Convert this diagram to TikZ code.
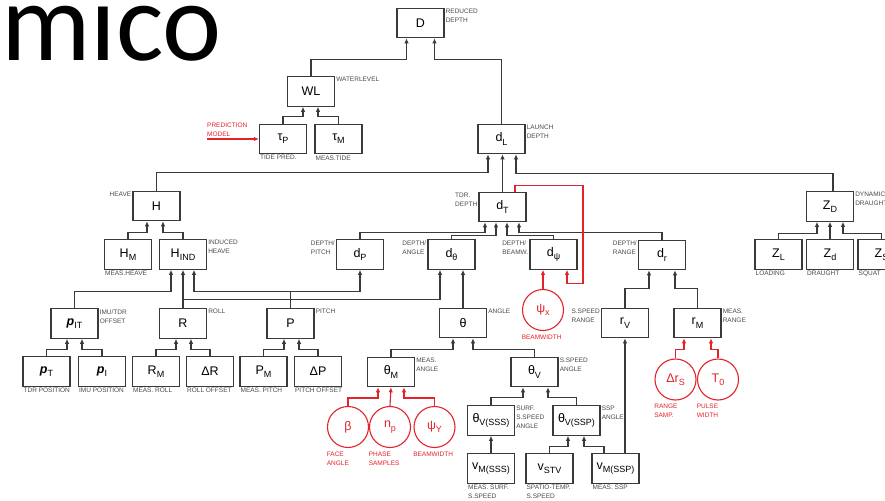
\documentclass[tikz,border=0pt]{standalone}
\usepackage{fontspec}
\setmainfont{Liberation Sans}
\newfontfamily\titlefont{Carlito}
\usetikzlibrary{arrows.meta}
\definecolor{linegray}{HTML}{3A3A3A}
\definecolor{labgray}{HTML}{4A4A4A}
\definecolor{mred}{HTML}{E3232A}
\newcommand{\sbs}[1]{\raisebox{-0.5ex}{\fontsize{9}{9}\selectfont #1}}
\newcommand{\vp}{\textbf{\textit{p}}}

\begin{document}
\begin{tikzpicture}[x=1pt,y=1pt]
	\tikzset{box/.style={draw=linegray,line width=1.1pt,minimum width=47pt,minimum height=29.5pt,inner sep=0pt,font=\fontsize{12.5}{12.5}\selectfont}}
	\tikzset{rnd/.style={circle,draw=mred,text=mred,line width=1.1pt,minimum size=41pt,inner sep=0pt,font=\fontsize{12.5}{12.5}\selectfont}}
	\tikzset{lab/.style={inner sep=1pt,align=left,text=labgray,font=\fontsize{6.5}{9}\selectfont}}
	\tikzset{redlab/.style={lab,text=mred}}
	\tikzset{rlab/.style={label={[lab,anchor=north west]north east:#1}}}
	\tikzset{llab/.style={label={[lab,anchor=north east]north west:#1}}}
	\tikzset{blab/.style={label={[lab,anchor=north west]south west:#1}}}
	\tikzset{clab/.style={label={[redlab,anchor=north west,xshift=-7.5pt,yshift=-8.5pt]south west:#1}}}
	\tikzset{link/.style={draw=linegray,line width=1.1pt,-{Latex[length=5pt,width=4.5pt]}}}
	\tikzset{redlink/.style={link,draw=mred}}
	\useasboundingbox (0,0) rectangle (885,-500);
	\clip (0,0) rectangle (885,-500);
	\node[anchor=base west,inner sep=0pt,text height=54pt,text depth=0pt,font=\titlefont\fontsize{112}{112}\selectfont] (title) at (1,-61) {mico};
	% top levels
	\node[box,rlab={REDUCED\\DEPTH}] (d) at (420.5,-23) {D};
	\node[box,rlab={WATERLEVEL}] (wl) at (311,-91.5) {WL};
	\node[box,blab={TIDE PRED.}] (taup) at (283,-139) {τ\sbs{P}};
	\node[box,blab={MEAS.TIDE}] (taum) at (338.5,-139) {τ\sbs{M}};
	\node[box,rlab={LAUNCH\\DEPTH}] (dl) at (501.5,-139) {d\sbs{L}};
	\coordinate (pmodel) at (207,-139);
	\node[redlab,anchor=south west] (pmtext) at ([xshift=-1pt,yshift=1pt]pmodel) {PREDICTION\\MODEL};
	\node[box,llab={HEAVE}] (h) at (156.5,-206) {H};
	\node[box,llab={TDR.\\DEPTH}] (dt) at (502.5,-207) {d\sbs{T}};
	\node[box,rlab={DYNAMIC\\DRAUGHT}] (zd) at (830,-206.5) {Z\sbs{D}};
	% second row
	\node[box,blab={MEAS.HEAVE}] (hm) at (128,-254.5) {H\sbs{M}};
	\node[box,rlab={INDUCED\\HEAVE}] (hind) at (183,-254.5) {H\sbs{IND}};
	\node[box,llab={DEPTH/\\PITCH}] (dp) at (360,-254.5) {d\sbs{P}};
	\node[box,llab={DEPTH/\\ANGLE}] (dth) at (451.5,-254.5) {d\sbs{θ}};
	\node[box,llab={DEPTH/\\BEAMW.}] (dpsi) at (553.5,-254.5) {d\sbs{ψ}};
	\node[box,llab={DEPTH/\\RANGE}] (dr) at (662,-255) {d\sbs{r}};
	\node[box,blab={LOADING}] (zl) at (778.5,-254.5) {Z\sbs{L}};
	\node[box,blab={DRAUGHT}] (zdr) at (830,-254.5) {Z\sbs{d}};
	\node[box,blab={SQUAT}] (zs) at (881.5,-254.5) {Z\sbs{S}};
	% third row
	\node[box,rlab={IMU/TDR\\OFFSET}] (pit) at (74.5,-323.5) {\vp\sbs{IT}};
	\node[box,rlab={ROLL}] (r) at (183,-323.5) {R};
	\node[box,rlab={PITCH}] (p) at (290.5,-323.5) {P};
	\node[box,rlab={ANGLE}] (th) at (463,-323) {θ};
	\node[rnd,clab={BEAMWIDTH}] (psix) at (543,-310) {ψ\sbs{x}};
	\node[box,llab={S.SPEED\\RANGE}] (rv) at (625,-323) {r\sbs{V}};
	\node[box,rlab={MEAS.\\RANGE}] (rm) at (697.5,-323) {r\sbs{M}};
	% fourth row
	\node[box,blab={TDR POSITION}] (pt) at (46.5,-371.5) {\vp\sbs{T}};
	\node[box,blab={IMU POSITION}] (pi) at (102,-371.5) {\vp\sbs{I}};
	\node[box,blab={MEAS. ROLL}] (rmeas) at (156,-371.5) {R\sbs{M}};
	\node[box,blab={ROLL OFFSET}] (dR) at (210,-371.5) {ΔR};
	\node[box,blab={MEAS. PITCH}] (pmeas) at (263.5,-371.5) {P\sbs{M}};
	\node[box,blab={PITCH OFFSET}] (dP) at (318,-371.5) {ΔP};
	\node[box,rlab={MEAS.\\ANGLE}] (thm) at (391,-372) {θ\sbs{M}};
	\node[box,rlab={S.SPEED\\ANGLE}] (thv) at (534.5,-372) {θ\sbs{V}};
	\node[rnd,clab={RANGE\\SAMP.}] (drs) at (675.5,-379.5) {Δr\sbs{S}};
	\node[rnd,clab={PULSE\\WIDTH}] (t0) at (718,-379.5) {T\sbs{0}};
	% bottom rows
	\node[rnd,clab={FACE\\ANGLE}] (beta) at (348,-427) {β};
	\node[rnd,clab={PHASE\\SAMPLES}] (np) at (390,-427) {n\sbs{p}};
	\node[rnd,clab={BEAMWIDTH}] (psiy) at (434.5,-427) {ψ\sbs{Y}};
	\node[box,rlab={SURF.\\S.SPEED\\ANGLE}] (thvs) at (491,-420.5) {θ\sbs{V(SSS)}};
	\node[box,rlab={SSP\\ANGLE}] (thvp) at (576.5,-420.5) {θ\sbs{V(SSP)}};
	\node[box,blab={MEAS. SURF.\\S.SPEED}] (vms) at (491,-468.5) {v\sbs{M(SSS)}};
	\node[box,blab={SPATIO-TEMP.\\S.SPEED}] (vstv) at (549.5,-468.5) {v\sbs{STV}};
	\node[box,blab={MEAS. SSP}] (vmp) at (615.5,-468.5) {v\sbs{M(SSP)}};
	% connectors
	\draw[link] (wl.north) -- ++(0,17) -| ([xshift=-14pt]d.south);
	\draw[link] (dl.north) -- ++(0,64) -| ([xshift=14pt]d.south);
	\draw[link] (taup.north) -- ++(0,7) -| ([xshift=-8pt]wl.south);
	\draw[link] (taum.north) -- ++(0,7) -| ([xshift=7pt]wl.south);
	\draw[link] (h.north) -- ++(0,18) -| ([xshift=-13.5pt]dl.south);
	\draw[link] (dt.north) -- (dt.north |- dl.south);
	\draw[link] ([xshift=3pt]zd.north) -- ++(0,18) -| ([xshift=14.5pt]dl.south);
	\draw[link] (hm.north) -- ++(0,7) -| ([xshift=-9.5pt]h.south);
	\draw[link] (hind.north) -- ++(0,7) -| ([xshift=6.5pt]h.south);
	\draw[link] (dp.north) -- ++(0,7) -| ([xshift=-17.5pt]dt.south);
	\draw[link] (dth.north) -- ++(0,4) -| ([xshift=-6.5pt]dt.south);
	\draw[link] (dpsi.north) -- ++(0,4) -| ([xshift=4.5pt]dt.south);
	\draw[link] (dr.north) -- ++(0,7) -| ([xshift=16.5pt]dt.south);
	\draw[link] (zl.north) -- ++(0,6) -| ([xshift=-13pt]zd.south);
	\draw[link] (zdr.north) -- (zd.south);
	\draw[link] (zs.north) -- ++(0,6) -| ([xshift=13pt]zd.south);
	\draw[link] (pit.north) -- ++(0,17) -| ([xshift=-12pt]hind.south);
	\draw[link] (r.north) -- (hind.south);
	\draw[link] (r.north) -- ++(0,9) -| ([xshift=-11.5pt]dth.south);
	\draw[link] (p.north) -- ++(0,17) -| ([xshift=11pt]hind.south);
	\draw[link] (p.north) -- ++(0,17) -| (dp.south);
	\draw[link] (th.north) -- (th.north |- dth.south);
	\draw[link] (pt.north) -- ++(0,7) -| ([xshift=-7.5pt]pit.south);
	\draw[link] (pi.north) -- ++(0,7) -| ([xshift=7.5pt]pit.south);
	\draw[link] (rmeas.north) -- ++(0,7) -| ([xshift=-7pt]r.south);
	\draw[link] (dR.north) -- ++(0,7) -| ([xshift=8pt]r.south);
	\draw[link] (pmeas.north) -- ++(0,7) -| ([xshift=-6.5pt]p.south);
	\draw[link] (dP.north) -- ++(0,7) -| ([xshift=8.5pt]p.south);
	\draw[link] (rv.north) -- ++(0,19) -| ([xshift=-13pt]dr.south);
	\draw[link] (rm.north) -- ++(0,19) -| ([xshift=13pt]dr.south);
	\draw[link] (thm.north) -- ++(0,7) -| ([xshift=-10pt]th.south);
	\draw[link] (thv.north) -- ++(0,7) -| ([xshift=10pt]th.south);
	\draw[link] (thvs.north) -- ++(0,8) -| ([xshift=-11.5pt]thv.south);
	\draw[link] (thvp.north) -- ++(0,8) -| ([xshift=13.5pt]thv.south);
	\draw[link] (vms.north) -- (thvs.south);
	\draw[link] (vstv.north) -- ++(0,7) -| ([xshift=-8.5pt]thvp.south);
	\draw[link] ([xshift=-11.5pt]vmp.north) -- ++(0,7) -| ([xshift=7.5pt]thvp.south);
	\draw[link] ([xshift=9.5pt]vmp.north) -- (rv.south);
	% red inputs
	\draw[redlink] (pmodel) -- (taup.west);
	\draw[redlink] (psix.north) -- ([xshift=-10.5pt]dpsi.south);
	\draw[redlink] ([xshift=12.5pt]dt.north) -- ++(0,6) -| ([xshift=29.5pt,yshift=-14pt]dpsi.south) -| ([xshift=13.5pt]dpsi.south);
	\draw[redlink] (beta.north) -- ++(0,8) -| ([xshift=-13pt]thm.south);
	\draw[redlink] (np.north) -- (thm.south);
	\draw[redlink] (psiy.north) -- ++(0,8) -| ([xshift=13pt]thm.south);
	\draw[redlink] (drs.north) -- ++(0,9) -| ([xshift=-13.5pt]rm.south);
	\draw[redlink] (t0.north) -- ++(0,9) -| ([xshift=13.5pt]rm.south);
\end{tikzpicture}
\end{document}
